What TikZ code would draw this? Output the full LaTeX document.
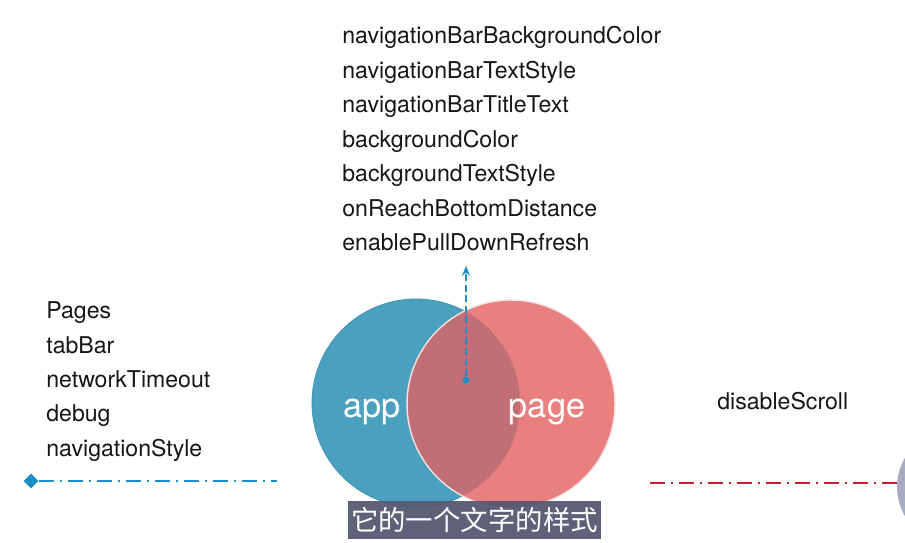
\documentclass[tikz,border=0pt]{standalone}
\usepackage{fontspec}
\setmainfont{TeX Gyre Heros}
\newfontfamily\cjkfont{Noto Sans CJK SC}
\usetikzlibrary{positioning,arrows.meta,shapes.geometric}
\definecolor{appfill}{RGB}{74,160,190}
\definecolor{appdraw}{RGB}{68,150,178}
\definecolor{pagefill}{RGB}{233,128,128}
\definecolor{pagedraw}{RGB}{246,226,226}
\definecolor{bothfill}{RGB}{191,111,117}
\definecolor{linkblue}{RGB}{30,142,196}
\definecolor{linkred}{RGB}{200,32,42}
\definecolor{fieldtext}{RGB}{22,22,26}
\definecolor{subfill}{RGB}{86,89,114}
\definecolor{edgegray}{RGB}{168,172,192}

\begin{document}
\begin{tikzpicture}[
  x=0.02cm, y=-0.02cm,
  field/.style={anchor=base west, inner sep=0pt, text=fieldtext,
                font=\fontsize{13.15pt}{15pt}\selectfont},
  bigword/.style={anchor=base, inner sep=0pt, text=white,
                  font=\fontsize{19.5pt}{22pt}\selectfont},
  venn/.style={circle, minimum size=4.16cm, inner sep=0pt},
  dashdot/.style={line width=1.2pt, dash pattern=on 8.5pt off 3.5pt on 1pt off 3.5pt}
]
\useasboundingbox (0,0) rectangle (905,543);

% Two overlapping sets
\node[venn, fill=appfill, draw=appdraw, line width=0.5pt] (appc) at (416,403) {};
\node[venn, fill=pagefill, draw=pagedraw, line width=0.8pt] (pagec) at (511,404) {};
\begin{scope}
  \clip (appc.center) circle (2.08cm);
  \fill[bothfill] (pagec.center) circle (2.06cm);
\end{scope}
\node[bigword] (app) at (372,418) {app};
\node[bigword] (page) at (547,418) {page};

% Fields shared by both: pointer from the overlap
\node[circle, fill=linkblue, inner sep=0pt, minimum size=4pt] (dot) at (466,380) {};
\coordinate (shared) at (466,266);
\draw[-{Stealth[length=5.5pt, width=4.5pt]}, linkblue, line width=1.2pt, dash pattern=on 4pt off 2pt]
  (dot) -- (shared);

\node[field] (f1) at (342,44) {navigationBarBackgroundColor};
\node[field] (f2) at (342,78.5) {navigationBarTextStyle};
\node[field] (f3) at (342,113) {navigationBarTitleText};
\node[field] (f4) at (342,147.5) {backgroundColor};
\node[field] (f5) at (342,182) {backgroundTextStyle};
\node[field] (f6) at (342,216.5) {onReachBottomDistance};
\node[field] (f7) at (342,251) {enablePullDownRefresh};

% Fields of app only
\node[field] (a1) at (46,319) {Pages};
\node[field] (a2) at (46,353.25) {tabBar};
\node[field] (a3) at (46,387.5) {networkTimeout};
\node[field] (a4) at (46,421.75) {debug};
\node[field] (a5) at (46,456) {navigationStyle};

% Fields of page only
\node[field] (p1) at (717,409) {disableScroll};

% Dash-dot rules under each side
\node[diamond, fill=linkblue, inner sep=0pt, minimum size=8.5pt] (appmark) at (31,481) {};
\coordinate (append) at (277,481);
\draw[dashdot, linkblue] (appmark) -- (append);
\coordinate (pagestart) at (650,483);
\coordinate (pageend) at (897,483);
\draw[dashdot, linkred] (pagestart) -- (pageend);

% Edge of the next shape, cut by the frame
\begin{scope}
  \clip (0,0) rectangle (905,543);
  \fill[edgegray] (955,487) circle (1.16cm);
\end{scope}

% Caption
\node[fill=subfill, fill opacity=0.95, text opacity=1, text=white, inner sep=0pt,
      minimum width=5.06cm, minimum height=0.76cm,
      font=\cjkfont\fontsize{15.6pt}{17pt}\selectfont] (caption) at (474.5,520)
  {它的一个文字的样式};

\end{tikzpicture}
\end{document}
